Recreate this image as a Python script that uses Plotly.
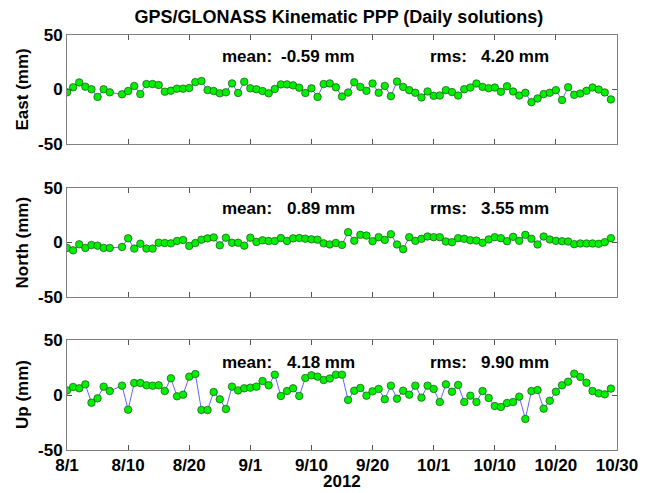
import plotly.graph_objects as go

# Day of year 2012 (Aug 1 = 214); Aug 9 (222) has no solution
doy = [214, 215, 216, 217, 218, 219, 220, 221, 223, 224, 225, 226, 227, 228, 229, 230,
       231, 232, 233, 234, 235, 236, 237, 238, 239, 240, 241, 242, 243, 244, 245, 246,
       247, 248, 249, 250, 251, 252, 253, 254, 255, 256, 257, 258, 259, 260, 261, 262,
       263, 264, 265, 266, 267, 268, 269, 270, 271, 272, 273, 274, 275, 276, 277, 278,
       279, 280, 281, 282, 283, 284, 285, 286, 287, 288, 289, 290, 291, 292, 293, 294,
       295, 296, 297, 298, 299, 300, 301, 302, 303]

east = [-2.6, 2.0, 6.5, 2.6, 0.2, -6.8, 0.2, -2.6, -4.4, -1.4, 3.2, -4.1, 5.0, 5.0, 4.1, -2.0,
        -1.1, 0.8, 0.8, 1.4, 6.8, 7.8, -0.5, -1.4, -3.5, -2.6, 5.6, -3.2, 7.1, 1.1, 0.2, -1.4,
        -3.5, 0.5, 4.7, 4.7, 3.8, 1.7, -3.2, 1.1, -6.8, 5.0, 5.6, 2.0, -6.4, -2.8, 6.6, 2.4,
        -1.2, 5.5, -3.0, 3.3, -6.1, 7.3, 2.4, -0.6, -3.0, -7.3, -1.8, -5.8, -5.5, -0.6, -2.4, -5.5,
        0.3, 1.8, 5.5, 2.4, 1.2, 1.8, -2.1, 3.0, -1.8, -5.5, -3.0, -11.6, -8.2, -4.2, -3.0, -0.6,
        -9.7, 2.1, -4.9, -3.7, -1.2, 1.8, 0.0, -2.7, -9.1]

north = [-5.0, -7.2, -1.7, -5.0, -2.3, -2.9, -5.0, -5.0, -4.1, 3.8, -5.6, -1.1, -5.6, -5.6, -0.2, -0.5,
         -0.8, 1.4, 2.3, -3.2, -0.5, 2.6, 3.8, 4.7, -2.6, 4.4, -0.2, -0.2, -2.9, 4.4, 0.5, 2.0,
         1.4, 1.4, 4.1, 1.4, 3.8, 4.1, 3.5, 2.9, 2.6, -0.8, -1.8, -0.4, -2.2, 9.5, 1.6, 7.0,
         6.4, 1.2, 4.9, 2.4, 7.6, -1.8, -6.1, 4.9, 1.5, 3.4, 5.5, 4.9, 4.9, 0.9, 0.3, 4.0,
         3.4, 2.1, 1.8, -0.3, 2.8, 4.9, 4.0, 1.2, 5.2, 1.5, 7.0, 3.4, -1.8, 5.5, 2.8, 1.5,
         1.2, 0.9, -1.5, -0.9, -0.9, -0.9, -1.2, 0.3, 4.0]

up = [4.2, 7.3, 6.1, 9.7, -7.0, -3.0, 7.6, 3.6, 8.5, -13.3, 10.9, 10.9, 8.8, 8.5, 8.8, 3.6,
      15.2, -1.2, 0.3, 16.7, 19.1, -13.6, -13.6, 2.7, -3.9, -12.7, 7.6, 4.2, 6.1, 6.7, 7.6, 12.7,
      8.8, 18.5, -0.9, 3.6, 6.1, -0.9, 15.5, 17.9, 16.7, 13.6, 15.0, 18.5, 18.5, -4.5, 3.9, 6.4,
      -0.6, 3.3, 5.5, -3.9, 8.5, -3.3, 3.9, 0.3, 8.5, -2.4, 8.5, 5.5, -6.4, 9.7, 3.0, 9.1,
      -6.4, -0.6, -6.4, 3.6, -2.7, -10.0, -10.9, -7.3, -6.4, -1.5, -21.8, 3.6, 4.5, -12.4, -5.2, 3.0,
      8.8, 12.1, 19.4, 16.4, 11.2, 3.6, 1.5, 0.6, 5.8]

panel_names = ["East (mm)", "North (mm)", "Up (mm)"]
mean_texts = ["-0.59 mm", "0.89 mm", "4.18 mm"]
rms_texts = ["4.20 mm", "3.55 mm", "9.90 mm"]

tick_doy = [214, 224, 234, 244, 254, 264, 274, 284, 294, 304]
tick_labels = ["8/1", "8/10", "8/20", "9/1", "9/10", "9/20", "10/1", "10/10", "10/20", "10/30"]
y_ticks = [-50, 0, 50]

# page offset: the html body has an 8px margin
OFF = 8
W, H = 650 - OFF, 493 - OFF
L, R, T, B = 67 - OFF, 617 - OFF, 35 - OFF, 450 - OFF
pw, ph = R - L, B - T

def px_x(x):
    return (x - OFF - L) / pw

def px_y(y):
    return (B - (y - OFF)) / ph

panels_px = [(35, 144), (188, 297), (340, 450)]
text_y_px = [56, 209, 362]

FONT = "Liberation Sans, Arial, sans-serif"
fig = go.Figure()
series = [east, north, up]
for i, vals in enumerate(series):
    fig.add_trace(go.Scatter(
        x=doy, y=vals, mode="lines+markers",
        xaxis="x" if i == 0 else f"x{i+1}",
        yaxis="y" if i == 0 else f"y{i+1}",
        line=dict(color="rgb(100,100,255)", width=1),
        marker=dict(color="#00f000", size=7.5, line=dict(color="#1a4d1a", width=0.7)),
        showlegend=False,
    ))

layout = dict(
    width=W, height=H,
    margin=dict(l=L, r=W - R, t=T, b=H - B),
    paper_bgcolor="white", plot_bgcolor="white",
    font=dict(family=FONT, size=17, color="black", weight="bold"),
    title=dict(text="GPS/GLONASS Kinematic PPP (Daily solutions)",
               x=px_x(339), xref="paper", xanchor="center",
               y=1 - (17 - OFF) / H, yref="container", yanchor="middle",
               font=dict(family=FONT, size=18, color="black", weight="bold")),
    annotations=[],
)

for i, (top, bot) in enumerate(panels_px):
    xa = "xaxis" if i == 0 else f"xaxis{i+1}"
    ya = "yaxis" if i == 0 else f"yaxis{i+1}"
    yname = "y" if i == 0 else f"y{i+1}"
    xname = "x" if i == 0 else f"x{i+1}"
    layout[xa] = dict(
        domain=[0, 1], anchor=yname, range=[214, 304],
        tickmode="array", tickvals=tick_doy, ticktext=tick_labels,
        showticklabels=(i == 2), ticks="inside", ticklen=5, tickwidth=1,
        tickcolor="#555555", showline=True, linecolor="#808080", linewidth=1,
        mirror="ticks", showgrid=False, zeroline=False,
        tickfont=dict(family=FONT, size=17, color="black", weight="bold"),
    )
    layout[ya] = dict(
        domain=[px_y(bot), px_y(top)], anchor=xname, range=[-50, 50],
        tickmode="array", tickvals=y_ticks, ticktext=[str(v) for v in y_ticks],
        ticks="inside", ticklen=5, tickwidth=1, tickcolor="#555555",
        showline=True, linecolor="#808080", linewidth=1, mirror="ticks",
        showgrid=False, zeroline=False,
        tickfont=dict(family=FONT, size=17, color="black", weight="bold"),
    )
    yc = (top + bot) / 2
    afont = dict(family=FONT, size=17, color="black", weight="bold")
    layout["annotations"] += [
        dict(text=panel_names[i], xref="paper", yref="paper", x=px_x(22), y=px_y(yc),
             textangle=-90, showarrow=False, xanchor="center", yanchor="middle", font=afont),
        dict(text="mean:", xref="paper", yref="paper", x=px_x(220), y=px_y(text_y_px[i]),
             showarrow=False, xanchor="left", yanchor="middle", font=afont),
        dict(text=mean_texts[i], xref="paper", yref="paper", x=px_x(357), y=px_y(text_y_px[i]),
             showarrow=False, xanchor="right", yanchor="middle", font=afont),
        dict(text="rms:", xref="paper", yref="paper", x=px_x(428), y=px_y(text_y_px[i]),
             showarrow=False, xanchor="left", yanchor="middle", font=afont),
        dict(text=rms_texts[i], xref="paper", yref="paper", x=px_x(551), y=px_y(text_y_px[i]),
             showarrow=False, xanchor="right", yanchor="middle", font=afont),
    ]

layout["annotations"].append(
    dict(text="2012", xref="paper", yref="paper", x=px_x(342), y=px_y(481),
         showarrow=False, xanchor="center", yanchor="middle",
         font=dict(family=FONT, size=17, color="black", weight="bold")))

fig.update_layout(**layout)
fig.write_html("out.html")
